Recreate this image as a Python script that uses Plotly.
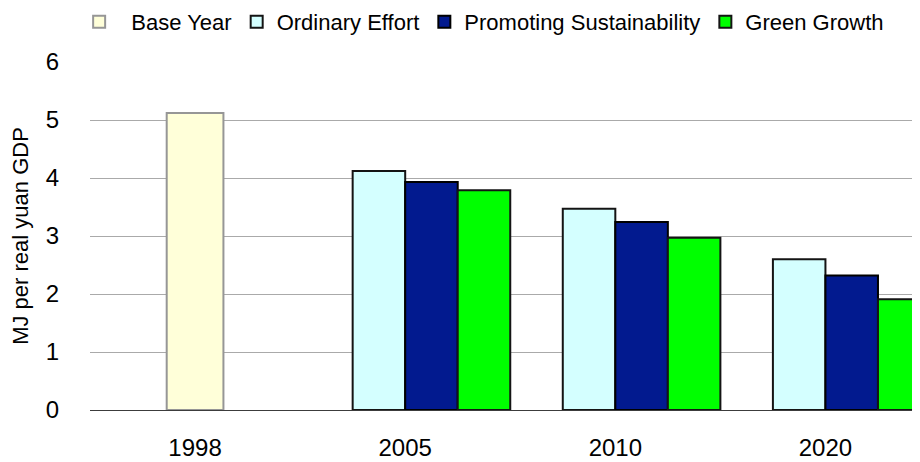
import plotly.graph_objects as go

years = ['1998', '2005', '2010', '2020']
base_year = [5.12]
ordinary_effort = [4.12, 3.47, 2.60]
promoting_sustainability = [3.93, 3.24, 2.32]
green_growth = [3.79, 2.97, 1.91]

FONT = 'Liberation Sans Narrow, Arial Narrow, Liberation Sans, Arial, sans-serif'

fig = go.Figure()
fig.add_trace(go.Bar(
    x=years[:1], y=base_year, name='\u00a0\u00a0Base Year',
    marker=dict(color='rgb(255,255,217)', line=dict(color='rgb(150,150,150)', width=2)),
    width=0.27, offset=-0.135,
))
fig.add_trace(go.Bar(
    x=years[1:], y=ordinary_effort, name='Ordinary Effort',
    marker=dict(color='rgb(212,255,255)', line=dict(color='rgb(20,20,20)', width=2)),
    width=0.25, offset=-0.25,
))
fig.add_trace(go.Bar(
    x=years[1:], y=promoting_sustainability, name='Promoting Sustainability',
    marker=dict(color='rgb(2,26,143)', line=dict(color='rgb(0,0,0)', width=2)),
    width=0.25, offset=0.0,
))
fig.add_trace(go.Bar(
    x=years[1:], y=green_growth, name='Green Growth',
    marker=dict(color='rgb(0,255,0)', line=dict(color='rgb(20,20,20)', width=2)),
    width=0.25, offset=0.25,
))

# page body has an 8px margin, so the figure is a bit smaller than the window
fig.update_layout(
    width=912, height=454,
    barmode='overlay',
    paper_bgcolor='white',
    plot_bgcolor='white',
    font=dict(family=FONT, size=22, color='black'),
    margin=dict(l=82, r=0, t=54, b=52, autoexpand=False),
    showlegend=True,
    legend=dict(
        orientation='h', xref='container', x=0.078, xanchor='left',
        yref='container', y=0.969, yanchor='middle',
        font=dict(size=22), itemwidth=30,
        traceorder='normal', bgcolor='rgba(0,0,0,0)',
    ),
    xaxis=dict(
        type='category', categoryorder='array', categoryarray=years,
        range=[-0.5, 3.45], showgrid=False, ticks='', automargin=False,
        showline=True, linecolor='rgb(60,60,60)', linewidth=1,
        ticklabelstandoff=16, tickfont=dict(size=24),
    ),
    yaxis=dict(
        range=[0, 6], dtick=1, showgrid=True, gridcolor='rgb(170,170,170)', gridwidth=1,
        zeroline=False, showline=False, ticks='', automargin=False,
        ticklabelstandoff=30, tickfont=dict(size=24),
        title=dict(text='MJ per real yuan GDP', font=dict(size=22), standoff=10),
    ),
)

fig.write_html('out.html')
